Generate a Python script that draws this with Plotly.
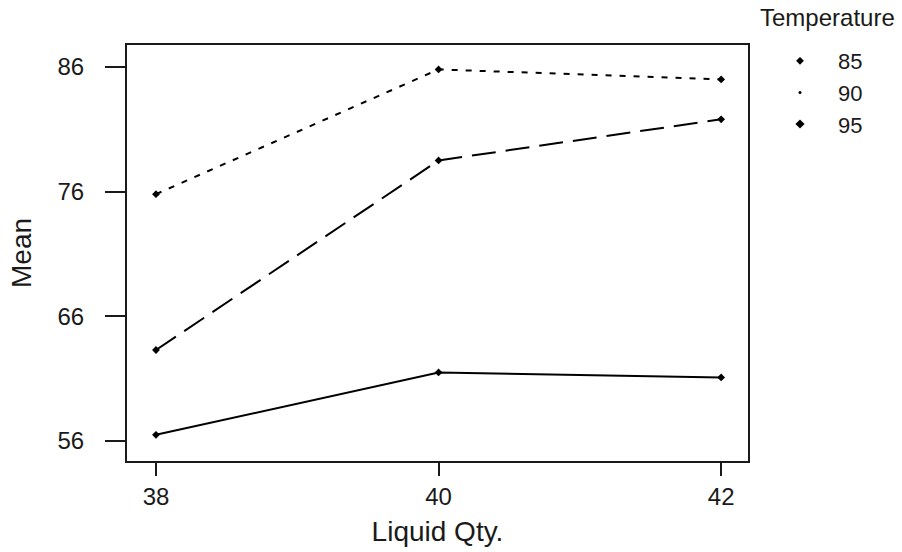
import plotly.graph_objects as go

liquid_qty = [38, 40, 42]
temperatures = ["85", "90", "95"]
mean_85 = [56.5, 61.5, 61.1]
mean_90 = [63.3, 78.5, 81.8]
mean_95 = [75.8, 85.8, 85.0]
y_ticks = [56, 66, 76, 86]
legend_title = "Temperature"

series = [mean_85, mean_90, mean_95]
dashes = ["solid", "24px,10px", "6px,8px"]
legend_symbols = ["diamond", "circle", "diamond"]
legend_sizes = [6, 3, 7]

FONT = "Liberation Sans, Arial, sans-serif"
fig = go.Figure()
for name, vals, dash in zip(temperatures, series, dashes):
    fig.add_trace(go.Scatter(
        x=liquid_qty, y=vals, mode="lines+markers", showlegend=False,
        line=dict(color="black", width=2, dash=dash),
        marker=dict(symbol="diamond", size=6, color="black"),
    ))
for name, sym, sz in zip(temperatures, legend_symbols, legend_sizes):
    fig.add_trace(go.Scatter(
        x=[None], y=[None], mode="markers", name=name, legendgroup=name,
        marker=dict(symbol=sym, size=sz, color="black"),
    ))

PW, PH = 621, 416
fig.update_layout(
    width=902, height=552,
    margin=dict(l=127, r=154, t=45, b=91, autoexpand=False),
    paper_bgcolor="white", plot_bgcolor="white",
    font=dict(family=FONT, color="#1a1a1a", size=22),
    legend=dict(
        x=(762 - 127) / PW, xanchor="left",
        y=(461 - 40) / PH, yanchor="top",
        font=dict(size=22), itemwidth=66, tracegroupgap=0,
        bgcolor="rgba(0,0,0,0)",
    ),
    annotations=[dict(
        text=legend_title, xref="paper", yref="paper",
        x=(758 - 127) / PW, xanchor="left",
        y=(461 - 18) / PH, yanchor="middle",
        showarrow=False, font=dict(size=24, family=FONT, color="#1a1a1a"),
    )],
    xaxis=dict(
        range=[37.795, 42.19], tickvals=liquid_qty, ticktext=[str(v) for v in liquid_qty],
        showgrid=False, zeroline=False, showline=True, linecolor="#1a1a1a", linewidth=2,
        mirror=True, ticks="outside", ticklen=13, tickwidth=1.5, tickcolor="#1a1a1a",
        tickfont=dict(size=24), ticklabelstandoff=0, automargin=False,
        title=dict(text="Liquid Qty.", font=dict(size=28), standoff=13),
    ),
    yaxis=dict(
        range=[54.4, 87.76], tickvals=y_ticks, ticktext=[str(v) for v in y_ticks],
        showgrid=False, zeroline=False, showline=True, linecolor="#1a1a1a", linewidth=2,
        mirror=True, ticks="outside", ticklen=20, tickwidth=1.5, tickcolor="#1a1a1a",
        tickfont=dict(size=24), ticklabelstandoff=16, automargin=False,
        title=dict(text="Mean", font=dict(size=28), standoff=18),
    ),
)
fig.write_html("out.html")
